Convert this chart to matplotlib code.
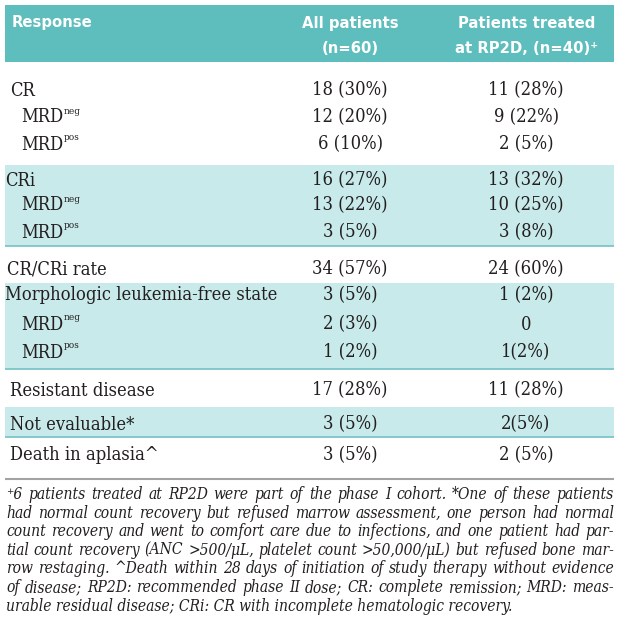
import matplotlib
matplotlib.use("Agg")
import matplotlib.pyplot as plt
from matplotlib.font_manager import FontProperties

# ---------------- data ----------------
header_response = "Response"
header_all = ["All patients", "(n=60)"]
header_rp2d = ["Patients treated", "at RP2D, (n=40)\u207a"]

response = ["CR", "MRD", "MRD", "CRi", "MRD", "MRD", "CR/CRi rate",
            "Morphologic leukemia-free state", "MRD", "MRD",
            "Resistant disease", "Not evaluable*", "Death in aplasia^"]
superscript = ["", "neg", "pos", "", "neg", "pos", "", "", "neg", "pos", "", "", ""]
all_patients = ["18 (30%)", "12 (20%)", "6 (10%)", "16 (27%)", "13 (22%)", "3 (5%)",
                "34 (57%)", "3 (5%)", "2 (3%)", "1 (2%)", "17 (28%)", "3 (5%)", "3 (5%)"]
rp2d_patients = ["11 (28%)", "9 (22%)", "2 (5%)", "13 (32%)", "10 (25%)", "3 (8%)",
                 "24 (60%)", "1 (2%)", "0", "1(2%)", "11 (28%)", "2(5%)", "2 (5%)"]

footnote_lines = [
    "\u207a6 patients treated at RP2D were part of the phase I cohort. *One of these patients",
    "had normal count recovery but refused marrow assessment, one person had normal",
    "count recovery and went to comfort care due to infections, and one patient had par-",
    "tial count recovery (ANC >500/\u03bcL, platelet count >50,000/\u03bcL) but refused bone mar-",
    "row restaging. ^Death within 28 days of initiation of study therapy without evidence",
    "of disease; RP2D: recommended phase II dose; CR: complete remission; MRD: meas-",
    "urable residual disease; CRi: CR with incomplete hematologic recovery.",
]

# ---------------- layout / style ----------------
W, H = 622, 641
row_y = [88, 115, 142, 178, 203, 230, 267, 293, 322, 350, 388, 422, 453]
label_x = [10, 21, 21, 5, 21, 21, 7, 5, 21, 21, 10, 10, 10]
col1_x, col2_x = 350, 526
left, right = 5, 614
header_color = "#5ebdbd"
band_color = "#c8eaea"
band_line = "#72c2c6"
text_color = "#231f20"
bands = [(165, 246), (283, 369), (407, 437)]

fig = plt.figure(figsize=(W / 100, H / 100), dpi=100)
ax = fig.add_axes([0, 0, 1, 1])
ax.set_xlim(0, W)
ax.set_ylim(H, 0)
ax.axis("off")
renderer = fig.canvas.get_renderer()


def fp(family, size, weight="normal", style="normal"):
    return FontProperties(family=family, stretch="condensed", weight=weight,
                          style=style, size=size)


def width(s, prop):
    t = ax.text(0, 0, s, fontproperties=prop)
    w = t.get_window_extent(renderer).width
    t.remove()
    return w


# fit font sizes to measured widths in the reference
body_fs = 10 * 272 / width("Morphologic leukemia-free state", fp("DejaVu Serif", 10))
head_fs = 1.15 * 10 * 118 / width("Patients treated", fp("DejaVu Sans", 10, weight="bold"))
foot_fs = 10 * 606 / max(width(l, fp("DejaVu Serif", 10, style="italic")) for l in footnote_lines)
body = fp("DejaVu Serif", body_fs)
sup = fp("DejaVu Serif", body_fs * 0.55)
head = fp("DejaVu Sans", head_fs, weight="bold")
foot = fp("DejaVu Serif", foot_fs, style="italic")

# header band
ax.add_patch(plt.Rectangle((left, 5), right - left, 57, color=header_color, lw=0))
ax.text(12, 27, header_response, fontproperties=head, color="white", va="baseline", ha="left")
for i, (a, b) in enumerate(zip(header_all, header_rp2d)):
    yb = 28 + 25 * i
    ax.text(col1_x, yb, a, fontproperties=head, color="white", va="baseline", ha="center")
    ax.text(col2_x + 1, yb, b, fontproperties=head, color="white", va="baseline", ha="center")

# shaded bands
for y0, y1 in bands:
    ax.add_patch(plt.Rectangle((left, y0), right - left, y1 - y0, color=band_color, lw=0))
    ax.plot([left, right], [y1, y1], color=band_line, lw=1.2, solid_capstyle="butt")

# body rows
cap = 7.5
for i, y in enumerate(row_y):
    t = ax.text(label_x[i], y + cap, response[i], fontproperties=body, color=text_color,
                va="baseline", ha="left")
    if superscript[i]:
        bb = t.get_window_extent(renderer)
        x_end = ax.transData.inverted().transform((bb.x1, bb.y0))[0]
        ax.text(x_end + 1, y - 1.5, superscript[i], fontproperties=sup, color=text_color,
                va="baseline", ha="left")
    ax.text(col1_x, y + cap, all_patients[i], fontproperties=body, color=text_color,
            va="baseline", ha="center")
    ax.text(col2_x, y + cap, rp2d_patients[i], fontproperties=body, color=text_color,
            va="baseline", ha="center")

# rule under table
ax.plot([left, right], [479, 479], color="#a3a3a3", lw=1.5, solid_capstyle="butt")

# footnote, justified
fx0, fx1 = 6, 614
for k, line in enumerate(footnote_lines):
    yb = 499 + 18.6 * k
    if k == len(footnote_lines) - 1:
        ax.text(fx0, yb, line, fontproperties=foot, color=text_color, va="baseline", ha="left")
        continue
    words = line.split(" ")
    ws = [width(w_, foot) for w_ in words]
    gap = (fx1 - fx0 - sum(ws)) / (len(words) - 1)
    x = fx0
    for w_, wd in zip(words, ws):
        ax.text(x, yb, w_, fontproperties=foot, color=text_color, va="baseline", ha="left")
        x += wd + gap

fig.savefig("out.png", dpi=100)
